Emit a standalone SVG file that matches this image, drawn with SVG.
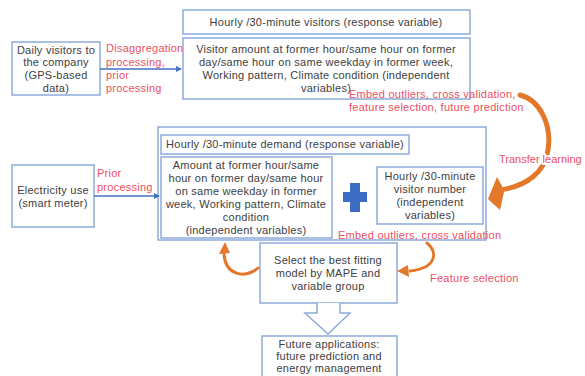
<svg xmlns="http://www.w3.org/2000/svg" width="585" height="376" viewBox="0 0 585 376">
  <defs>
    <style>
      .box { fill: #ffffff; stroke: #8eaadb; stroke-width: 1.5; }
      .txt { font-family: "Liberation Sans", Arial, sans-serif; font-size: 11px; letter-spacing: 0.25px; fill: #404040; text-anchor: middle; }
      .red { font-family: "Liberation Sans", Arial, sans-serif; font-size: 11px; letter-spacing: 0.25px; fill: #ec4f5f; }
      .halo { paint-order: stroke; stroke: #ffffff; stroke-width: 4px; stroke-linejoin: round; letter-spacing: 0; }
      .flow { fill: none; stroke: #4472c4; stroke-width: 1.5; }
      .curve { fill: none; stroke: #e4782a; stroke-linecap: round; }
      .head { fill: #e4782a; }
    </style>
    <marker id="blueHead" viewBox="0 0 6 6" refX="5" refY="3" markerWidth="4" markerHeight="4" orient="auto">
      <path d="M0,0 L6,3 L0,6 z" fill="#4472c4"/>
    </marker>
  </defs>

  <rect width="585" height="376" fill="#ffffff"/>

  <!-- visitor data source -->
  <g id="daily-visitors">
    <rect class="box" x="12" y="42" width="88" height="53"/>
    <text class="txt" x="56" y="54">Daily visitors to</text>
    <text class="txt" x="56" y="66">the company</text>
    <text class="txt" x="56" y="79">(GPS-based</text>
    <text class="txt" x="56" y="92">data)</text>
  </g>

  <!-- visitor model -->
  <g id="visitor-response">
    <rect class="box" x="183" y="10" width="287" height="24"/>
    <text class="txt" x="326" y="26">Hourly /30-minute visitors (response variable)</text>
  </g>
  <g id="visitor-independent">
    <rect class="box" x="183" y="38" width="287" height="61"/>
    <text class="txt" x="326" y="53">Visitor amount at former hour/same hour on former</text>
    <text class="txt" x="326" y="66">day/same hour on same weekday in former week,</text>
    <text class="txt" x="326" y="79">Working pattern, Climate condition (independent</text>
    <text class="txt" x="326" y="92">variables)</text>
  </g>

  <!-- electricity data source -->
  <g id="electricity-use">
    <rect class="box" x="12" y="165" width="82" height="62"/>
    <text class="txt" x="53" y="194">Electricity use</text>
    <text class="txt" x="53" y="207">(smart meter)</text>
  </g>

  <!-- demand model -->
  <g id="demand-model">
    <rect class="box" x="158" y="127" width="328" height="113"/>
    <g id="demand-response">
      <rect class="box" x="161" y="135" width="248" height="19"/>
      <text class="txt" x="285" y="148">Hourly /30-minute demand (response variable)</text>
    </g>
    <g id="demand-independent">
      <rect class="box" x="161" y="157" width="171" height="81"/>
      <text class="txt" x="246" y="169">Amount at former hour/same</text>
      <text class="txt" x="246" y="182">hour on former day/same hour</text>
      <text class="txt" x="246" y="195">on same weekday in former</text>
      <text class="txt" x="246" y="208">week, Working pattern, Climate</text>
      <text class="txt" x="246" y="221">condition</text>
      <text class="txt" x="246" y="234">(independent variables)</text>
    </g>
    <g id="plus">
      <rect x="343" y="192" width="24" height="10" fill="#3c6cc4"/>
      <rect x="350" y="183" width="10" height="29" fill="#3c6cc4"/>
    </g>
    <g id="visitor-number">
      <rect class="box" x="377" y="167" width="106" height="57"/>
      <text class="txt" x="430" y="180">Hourly /30-minute</text>
      <text class="txt" x="430" y="193">visitor number</text>
      <text class="txt" x="430" y="206">(independent</text>
      <text class="txt" x="430" y="219">variables)</text>
    </g>
  </g>

  <!-- model selection -->
  <g id="select-model">
    <rect class="box" x="260" y="243" width="137" height="60"/>
    <text class="txt" x="328" y="264">Select the best fitting</text>
    <text class="txt" x="328" y="277">model by MAPE and</text>
    <text class="txt" x="328" y="290">variable group</text>
  </g>

  <!-- applications -->
  <g id="future-applications">
    <rect class="box" x="262" y="336" width="135" height="44"/>
    <text class="txt" x="329" y="348">Future applications:</text>
    <text class="txt" x="329" y="360">future prediction and</text>
    <text class="txt" x="329" y="372">energy management</text>
  </g>

  <!-- connectors -->
  <g id="connectors">
    <path class="flow" d="M100,69 H181" marker-end="url(#blueHead)"/>
    <path class="flow" d="M94,196 H159" marker-end="url(#blueHead)"/>

    <!-- hollow down arrow -->
    <path d="M317,303 V313 H305 L328,334 L350,313 H340 V303" fill="#ffffff" stroke="#8eaadb" stroke-width="1.5" stroke-linejoin="miter"/>

    <!-- transfer learning arc -->
    <path class="curve" stroke-width="5" d="M520,95 C540,100 552,125 548,150 C545,172 527,186 500,190"/>
    <path class="head" d="M488,199 L497,177 L502,186 L504,192 L500,210 z"/>

    <!-- feedback arcs -->
    <path class="curve" stroke-width="3" d="M258,268 C246,279 224,276 224,252"/>
    <path class="head" d="M225,242 L219,254 L230,253 z"/>
    <path class="curve" stroke-width="3" d="M427,243 C438,252 437,268 410,271"/>
    <path class="head" d="M397,271 L408,265 L409,277 z"/>
  </g>

  <!-- process labels -->
  <g id="labels">
    <text class="red" x="106" y="52">Disaggregation</text>
    <text class="red" x="106" y="66">processing,</text>
    <text class="red" x="106" y="79">prior</text>
    <text class="red" x="106" y="92">processing</text>
    <text class="red" x="349" y="98">Embed outliers, cross validation,</text>
    <text class="red" x="349" y="111">feature selection, future prediction</text>
    <text class="red halo" x="499" y="163">Transfer learning</text>
    <text class="red" x="97" y="177">Prior</text>
    <text class="red" x="97" y="191">processing</text>
    <text class="red" x="338" y="239">Embed outliers, cross validation</text>
    <text class="red" x="430" y="282">Feature selection</text>
  </g>
</svg>
